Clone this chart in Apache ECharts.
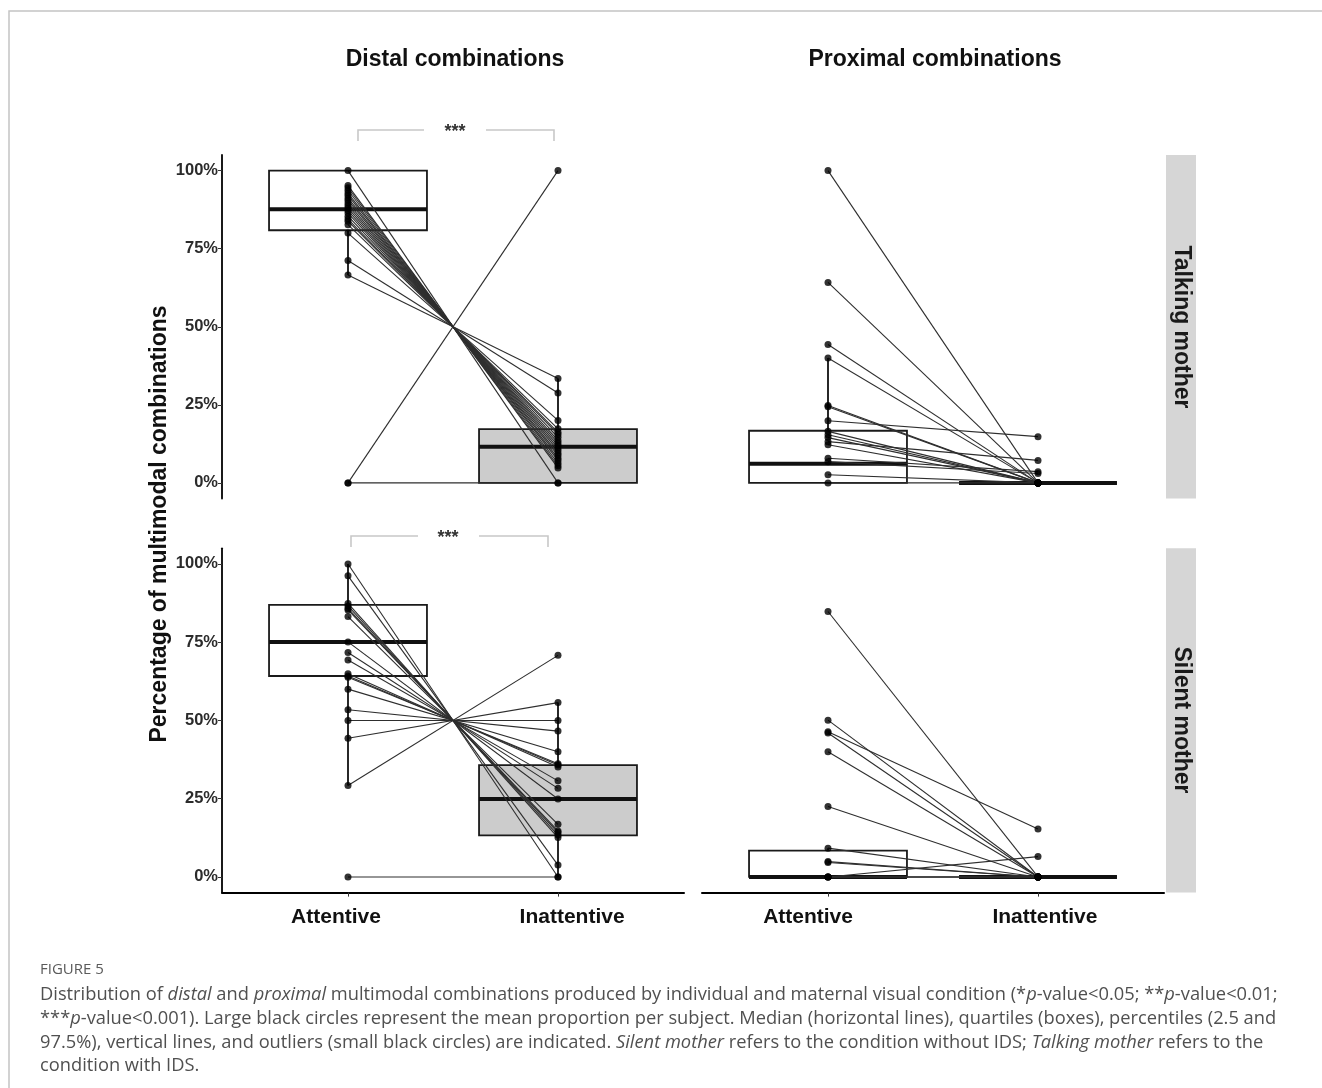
<!DOCTYPE html>
<html>
<head>
<meta charset="utf-8">
<script src="https://cdn.jsdelivr.net/npm/echarts/dist/echarts.min.js"></script>
<style>
  html, body { margin: 0; padding: 0; background: #ffffff; }
  #chart { width: 1322px; height: 1088px; }
</style>
</head>
<body>
<div id="chart"></div>
<script>
// ---------------- DATA ----------------
const categories = ['Attentive', 'Inattentive'];
const panelTitles = ['Distal combinations', 'Proximal combinations'];
const stripLabels = ['Talking mother', 'Silent mother'];
const yTicks = [0, 25, 50, 75, 100];
const yAxisTitle = 'Percentage of multimodal combinations';
const significance = ['***', '***'];

// Distal, talking mother (per subject: attentive -> inattentive)
const distalTalkingAttentive   = [100, 95.2, 94.5, 93.7, 92.8, 92.1, 91.2, 90.5, 89.6, 88.8, 88.0, 87.2, 86.4, 85.4, 84.5, 83.8, 82.7, 80.0, 71.2, 66.6, 0, 0];
const distalTalkingInattentive = [0, 4.8, 5.5, 6.3, 7.2, 7.9, 8.8, 9.5, 10.4, 11.2, 12.0, 12.8, 13.6, 14.6, 15.5, 16.2, 17.3, 20.0, 28.8, 33.4, 100, 0];
// Distal, silent mother
const distalSilentAttentive   = [100, 96.2, 87.4, 86.6, 85.8, 85.3, 83.2, 75.1, 71.7, 69.3, 64.9, 64.2, 63.8, 60.0, 53.4, 50.0, 44.3, 29.2, 0];
const distalSilentInattentive = [0, 3.8, 12.6, 13.4, 14.2, 14.7, 16.8, 24.9, 28.3, 30.7, 35.1, 35.8, 36.2, 40.0, 46.6, 50.0, 55.7, 70.8, 0];
// Proximal, talking mother
const proximalTalkingAttentive   = [100, 64.2, 44.3, 40.0, 24.8, 24.4, 19.9, 16.5, 15.4, 14.5, 13.2, 12.2, 7.9, 6.8, 2.6, 0];
const proximalTalkingInattentive = [0, 0, 0, 0, 0, 0, 14.8, 0, 0, 0, 7.2, 0, 3.6, 3.0, 0, 0];
// Proximal, silent mother
const proximalSilentAttentive   = [84.8, 50.1, 46.4, 46.0, 40.0, 22.5, 9.2, 4.9, 4.6, 0, 0, 0, 0];
const proximalSilentInattentive = [0, 0, 15.3, 0, 0, 0, 0, 0, 0, 6.5, 0, 0, 0];

// Box statistics [lower whisker, Q1, median, Q3, upper whisker] for Attentive, Inattentive
const distalTalkingBoxes   = [[66.6, 80.9, 87.6, 100, 100], [0, 0, 11.6, 17.2, 33.4]];
const distalSilentBoxes    = [[29.2, 64.2, 75.1, 86.9, 100], [0, 13.3, 24.9, 35.7, 55.7]];
const proximalTalkingBoxes = [[0, 0, 6.1, 16.7, 40.0], [0, 0, 0, 0, 0]];
const proximalSilentBoxes  = [[0, 0, 0, 8.4, 9.2], [0, 0, 0, 0, 0]];

const captionHead = 'FIGURE 5';
const captionLines = [
  'Distribution of {i|distal} and {i|proximal} multimodal combinations produced by individual and maternal visual condition (*{i|p}-value<0.05; **{i|p}-value<0.01;',
  '***{i|p}-value<0.001). Large black circles represent the mean proportion per subject. Median (horizontal lines), quartiles (boxes), percentiles (2.5 and',
  '97.5%), vertical lines, and outliers (small black circles) are indicated. {i|Silent mother} refers to the condition without IDS; {i|Talking mother} refers to the',
  'condition with IDS.'
];

// ---------------- LAYOUT / STYLE ----------------
const CAT_X = [1, 2];
const BOX_HALF = 0.376;
const FONT = 'Liberation Sans, Arial, sans-serif';
const CAP_FONT = 'Open Sans';
const CAP_SIZE = 18.3;
const panels = [
  { att: distalTalkingAttentive, inatt: distalTalkingInattentive, boxes: distalTalkingBoxes, fills: ['#ffffff', '#cccccc'],
    grid: { left: 222, top: 155, width: 462, height: 343.5 }, leftAxis: true, bottomAxis: false, labelX: [0.943, 2.067] },
  { att: proximalTalkingAttentive, inatt: proximalTalkingInattentive, boxes: proximalTalkingBoxes, fills: ['#ffffff', '#cccccc'],
    grid: { left: 702, top: 155, width: 462, height: 343.5 }, leftAxis: false, bottomAxis: false, labelX: [0.905, 2.033] },
  { att: distalSilentAttentive, inatt: distalSilentInattentive, boxes: distalSilentBoxes, fills: ['#ffffff', '#cccccc'],
    grid: { left: 222, top: 548.3, width: 462, height: 344.3 }, leftAxis: true, bottomAxis: true, labelX: [0.943, 2.067] },
  { att: proximalSilentAttentive, inatt: proximalSilentInattentive, boxes: proximalSilentBoxes, fills: ['#ffffff', '#cccccc'],
    grid: { left: 702, top: 548.3, width: 462, height: 344.3 }, leftAxis: false, bottomAxis: true, labelX: [0.905, 2.033] }
];

function makeBoxRenderer(fills) {
  return function (params, api) {
    const x = api.value(0);
    const lo = api.value(1), q1 = api.value(2), med = api.value(3), q3 = api.value(4), hi = api.value(5);
    const tl = api.coord([x - BOX_HALF, q3]);
    const br = api.coord([x + BOX_HALF, q1]);
    const pLo = api.coord([x, lo]), pQ1 = api.coord([x, q1]);
    const pQ3 = api.coord([x, q3]), pHi = api.coord([x, hi]);
    const mL = api.coord([x - BOX_HALF, med]), mR = api.coord([x + BOX_HALF, med]);
    return {
      type: 'group',
      children: [
        { type: 'line', shape: { x1: pLo[0], y1: pLo[1], x2: pQ1[0], y2: pQ1[1] }, style: { stroke: '#111', lineWidth: 1.8 } },
        { type: 'line', shape: { x1: pQ3[0], y1: pQ3[1], x2: pHi[0], y2: pHi[1] }, style: { stroke: '#111', lineWidth: 1.8 } },
        { type: 'rect', shape: { x: tl[0], y: tl[1], width: br[0] - tl[0], height: br[1] - tl[1] },
          style: { fill: fills[params.dataIndex], stroke: '#1a1a1a', lineWidth: 1.8 } },
        { type: 'line', shape: { x1: mL[0], y1: mL[1], x2: mR[0], y2: mR[1] }, style: { stroke: '#111', lineWidth: 4 } }
      ]
    };
  };
}

function renderPair(params, api) {
  const a = api.coord([CAT_X[0], api.value(1)]);
  const b = api.coord([CAT_X[1], api.value(2)]);
  return { type: 'line', shape: { x1: a[0], y1: a[1], x2: b[0], y2: b[1] }, style: { stroke: '#2e2e2e', lineWidth: 1.1 } };
}

const grids = [], xAxes = [], yAxes = [], series = [];
panels.forEach((p, i) => {
  grids.push(Object.assign({ containLabel: false }, p.grid));
  xAxes.push({
    type: 'value', gridIndex: i, min: 0.4, max: 2.6, show: p.bottomAxis,
    axisLine: { show: true, onZero: false, lineStyle: { color: '#000', width: 2 } },
    axisTick: { show: true, customValues: CAT_X, length: 4, lineStyle: { color: '#333', width: 1 } },
    axisLabel: { show: true, customValues: p.labelX, margin: 14,
      formatter: v => (v < 1.5 ? categories[0] : categories[1]),
      fontFamily: FONT, fontSize: 21, fontWeight: 'bold', color: '#111' },
    splitLine: { show: false }
  });
  yAxes.push({
    type: 'value', gridIndex: i, min: -5, max: 105, show: p.leftAxis,
    axisLine: { show: true, onZero: false, lineStyle: { color: '#000', width: 1.8 } },
    axisTick: { show: true, customValues: yTicks, length: 4, lineStyle: { color: '#333', width: 1 } },
    axisLabel: { show: true, customValues: yTicks, margin: 4, formatter: v => v + '%',
      fontFamily: FONT, fontSize: 16.5, fontWeight: 'bold', color: '#2b2b2b' },
    splitLine: { show: false }
  });
  series.push({
    type: 'custom', xAxisIndex: i, yAxisIndex: i, z: 1, silent: true,
    renderItem: makeBoxRenderer(p.fills),
    encode: { x: 0, y: [1, 2, 3, 4, 5] },
    data: p.boxes.map((b, k) => [CAT_X[k]].concat(b))
  });
  series.push({
    type: 'custom', xAxisIndex: i, yAxisIndex: i, z: 2, silent: true,
    renderItem: renderPair,
    encode: { x: 0, y: [1, 2] },
    data: p.att.map((v, k) => [CAT_X[0], v, p.inatt[k]])
  });
  series.push({
    type: 'scatter', xAxisIndex: i, yAxisIndex: i, z: 3, silent: true,
    symbol: 'circle', symbolSize: 7, itemStyle: { color: '#000' },
    data: p.att.map(v => [CAT_X[0], v]).concat(p.inatt.map(v => [CAT_X[1], v]))
  });
});

const captionRich = { i: { fontStyle: 'italic', fontFamily: CAP_FONT, fontSize: CAP_SIZE, fill: '#505050', color: '#505050' } };
const graphics = [
  { type: 'rect', shape: { x: 9, y: 11, width: 1400, height: 1200 }, style: { fill: 'none', stroke: '#c4c4c4', lineWidth: 1.5 }, z: -1 },
  // panel titles
  { type: 'text', x: 455, y: 60, style: { text: panelTitles[0], align: 'center', verticalAlign: 'middle', font: 'bold 23px ' + FONT, fill: '#111' } },
  { type: 'text', x: 935, y: 60, style: { text: panelTitles[1], align: 'center', verticalAlign: 'middle', font: 'bold 23px ' + FONT, fill: '#111' } },
  // y axis title
  { type: 'text', x: 160, y: 524, rotation: Math.PI / 2, style: { text: yAxisTitle, align: 'center', verticalAlign: 'middle', font: 'bold 23px ' + FONT, fill: '#111' } },
  // strips
  { type: 'rect', shape: { x: 1166, y: 155, width: 30, height: 343.5 }, style: { fill: '#d6d6d6' } },
  { type: 'rect', shape: { x: 1166, y: 548.3, width: 30, height: 344.3 }, style: { fill: '#d6d6d6' } },
  { type: 'text', x: 1181, y: 327, rotation: -Math.PI / 2, style: { text: stripLabels[0], align: 'center', verticalAlign: 'middle', font: 'bold 23px ' + FONT, fill: '#1a1a1a' } },
  { type: 'text', x: 1181, y: 720, rotation: -Math.PI / 2, style: { text: stripLabels[1], align: 'center', verticalAlign: 'middle', font: 'bold 23px ' + FONT, fill: '#1a1a1a' } },
  // significance brackets
  { type: 'polyline', shape: { points: [[358, 141], [358, 130], [424, 130]] }, style: { stroke: '#c8c8c8', lineWidth: 1.6, fill: 'none' } },
  { type: 'polyline', shape: { points: [[486, 130], [554, 130], [554, 141]] }, style: { stroke: '#c8c8c8', lineWidth: 1.6, fill: 'none' } },
  { type: 'text', x: 455, y: 132, style: { text: significance[0], align: 'center', verticalAlign: 'middle', font: 'bold 18px ' + FONT, fill: '#333' } },
  { type: 'polyline', shape: { points: [[351, 547], [351, 536], [418, 536]] }, style: { stroke: '#c8c8c8', lineWidth: 1.6, fill: 'none' } },
  { type: 'polyline', shape: { points: [[479, 536], [548, 536], [548, 547]] }, style: { stroke: '#c8c8c8', lineWidth: 1.6, fill: 'none' } },
  { type: 'text', x: 448, y: 538, style: { text: significance[1], align: 'center', verticalAlign: 'middle', font: 'bold 18px ' + FONT, fill: '#333' } },
  // caption
  { type: 'text', x: 40, y: 970, style: { text: captionHead, align: 'left', verticalAlign: 'middle', font: '15px ' + CAP_FONT, fill: '#5a5a5a' } }
];
captionLines.forEach((t, k) => {
  graphics.push({ type: 'text', x: 40, y: 995 + k * 23.7,
    style: { text: t, rich: captionRich, align: 'left', verticalAlign: 'middle', font: CAP_SIZE + 'px ' + CAP_FONT, fill: '#505050' } });
});

const chart = echarts.init(document.getElementById('chart'), null, { renderer: 'canvas' });
chart.setOption({
  backgroundColor: '#ffffff',
  animation: false,
  grid: grids,
  xAxis: xAxes,
  yAxis: yAxes,
  series: series,
  graphic: graphics
});
</script>
</body>
</html>
